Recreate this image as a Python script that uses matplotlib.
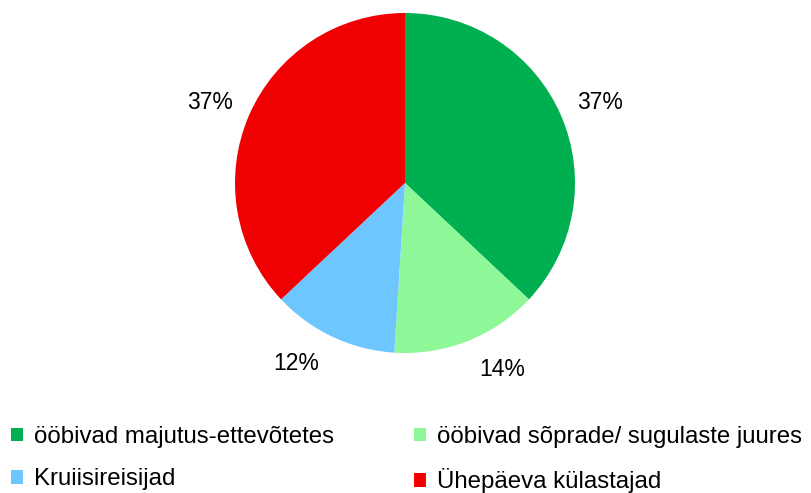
import matplotlib
matplotlib.use("Agg")
import matplotlib.pyplot as plt
import numpy as np
from matplotlib.patches import Patch

plt.rcParams['font.family'] = ['Liberation Sans', 'DejaVu Sans']

categories = ["ööbivad majutus-ettevõtetes", "ööbivad sõprade/ sugulaste juures",
              "Kruiisireisijad", "Ühepäeva külastajad"]
values = [37, 14, 12, 37]
colors = ["#00B050", "#8EF898", "#6EC6FF", "#F00000"]
label_angle_shift = [-1.0, 6.0, -6.0, 1.0]   # degrees, best-fit label nudges

W, H = 811, 493
fig = plt.figure(figsize=(W/100, H/100), dpi=100)
cx, cy, r = 405, 183, 170
ax = fig.add_axes([(cx - r)/W, (H - cy - r)/H, 2*r/W, 2*r/H])
wedges, texts, autotexts = ax.pie(values, colors=colors, startangle=90, counterclock=False,
                                  autopct='%1.0f%%', pctdistance=1.23,
                                  textprops=dict(fontsize=16.5, color='#000000'),
                                  wedgeprops=dict(linewidth=0))
for w, t, s in zip(wedges, autotexts, label_angle_shift):
    ang = np.deg2rad((w.theta1 + w.theta2) / 2 + s)
    t.set_position((1.24 * np.cos(ang), 1.24 * np.sin(ang)))
ax.set_xlim(-1, 1)
ax.set_ylim(-1, 1)
ax.set_aspect('equal')

order = [0, 2, 1, 3]
handles = [Patch(facecolor=colors[i], edgecolor='none') for i in order]
labels = [categories[i] for i in order]
leg = fig.legend(handles, labels, ncol=2, loc='upper left', frameon=False,
                 fontsize=17.3, handlelength=0.5, handleheight=0.5,
                 handletextpad=0.45, columnspacing=3.35, labelspacing=0.85,
                 borderaxespad=0, borderpad=0)
leg.set_bbox_to_anchor((11/W, 1 - 426/H), transform=fig.transFigure)

fig.savefig("out.png", dpi=100)
